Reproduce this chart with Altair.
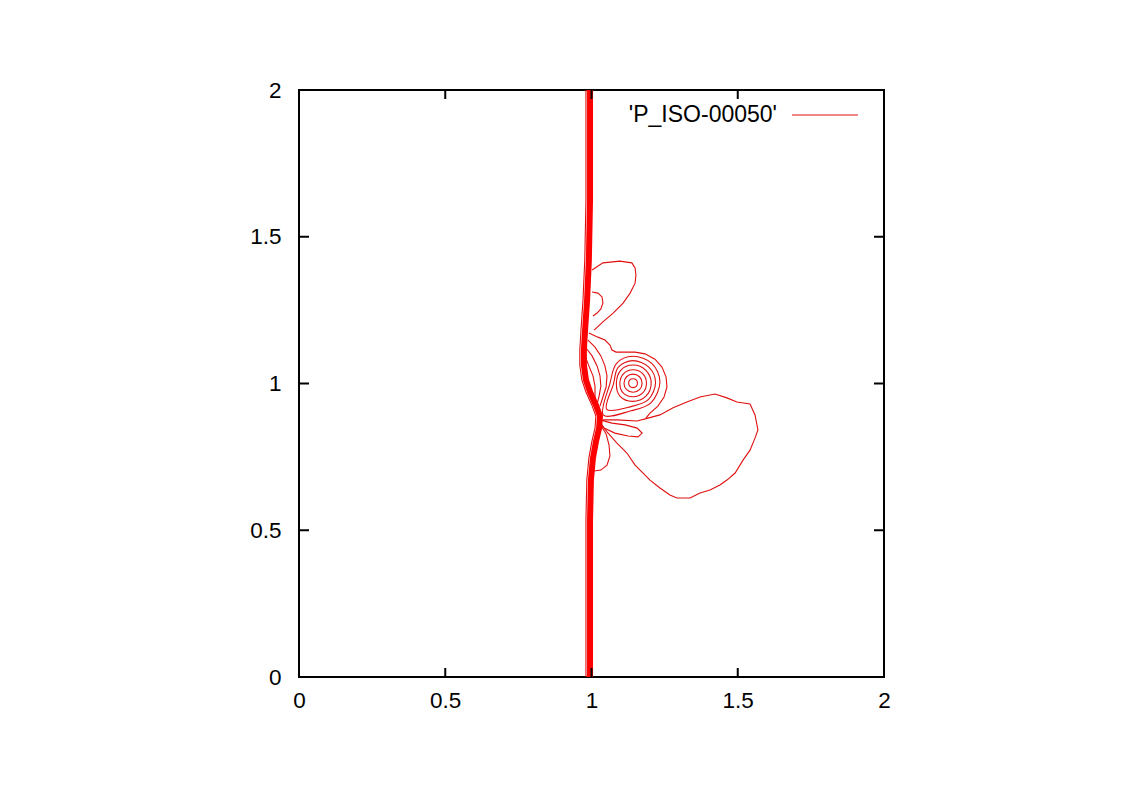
import altair as alt
import pandas as pd

# ---------------- contour paths (data units) ----------------
shock_x = [0.995, 0.995, 0.991, 0.985, 0.978, 0.974, 0.974, 0.981, 0.995, 1.015, 1.029, 1.026, 1.015, 1.005, 0.998, 0.995, 0.995]
shock_y = [2.0, 1.625, 1.421, 1.285, 1.182, 1.114, 1.063, 1.012, 0.971, 0.927, 0.889, 0.848, 0.801, 0.746, 0.671, 0.535, 0.0]
edge_x = [0.981, 0.981, 0.977, 0.971, 0.964, 0.960, 0.960, 0.967, 0.981, 1.001, 1.015, 1.012, 1.001, 0.991, 0.984, 0.981, 0.981]
edge_y = shock_y

a_x = [0.991, 1.022, 1.046, 1.063, 1.070, 1.084, 1.115, 1.149, 1.183, 1.217, 1.241, 1.255, 1.258, 1.248, 1.227, 1.200, 1.186]
a_y = [1.172, 1.158, 1.148, 1.131, 1.114, 1.107, 1.107, 1.107, 1.101, 1.083, 1.056, 1.022, 0.988, 0.954, 0.923, 0.899, 0.882]
b_x = [0.988, 1.012, 1.032, 1.046, 1.053, 1.050, 1.039, 1.029]
b_y = [1.148, 1.124, 1.094, 1.060, 1.026, 0.988, 0.954, 0.923]
c_x = [0.981, 1.002, 1.019, 1.029, 1.032, 1.026, 1.019]
c_y = [1.121, 1.094, 1.060, 1.026, 0.991, 0.957, 0.930]
d_x = [0.978, 0.991, 1.005, 1.012, 1.012, 1.015]
d_y = [1.094, 1.060, 1.026, 0.991, 0.957, 0.930]

top_x = [1.002, 1.039, 1.097, 1.138, 1.149, 1.152, 1.149, 1.132, 1.108, 1.074, 1.039, 1.009]
top_y = [1.387, 1.411, 1.417, 1.411, 1.394, 1.370, 1.342, 1.308, 1.274, 1.240, 1.210, 1.182]
small_x = [1.002, 1.022, 1.036, 1.039, 1.032, 1.019, 1.005]
small_y = [1.312, 1.308, 1.295, 1.274, 1.254, 1.240, 1.230]

lobe_x = [1.039, 1.087, 1.156, 1.193, 1.234, 1.279, 1.326, 1.371, 1.422, 1.463, 1.497, 1.542, 1.559, 1.569,
          1.559, 1.542, 1.518, 1.491, 1.463, 1.439, 1.405, 1.371, 1.337, 1.292, 1.268, 1.234, 1.200, 1.173,
          1.149, 1.121, 1.087, 1.053, 1.032]
lobe_y = [0.876, 0.876, 0.872, 0.882, 0.893, 0.917, 0.937, 0.954, 0.964, 0.951, 0.937, 0.930, 0.893, 0.842,
          0.814, 0.773, 0.739, 0.695, 0.671, 0.654, 0.637, 0.627, 0.610, 0.610, 0.620, 0.644, 0.671, 0.698,
          0.722, 0.763, 0.797, 0.835, 0.862]

l1_x = [1.029, 1.070, 1.115, 1.156, 1.173, 1.159, 1.125, 1.080, 1.043, 1.035]
l1_y = [0.876, 0.865, 0.859, 0.848, 0.831, 0.818, 0.821, 0.831, 0.848, 0.860]
l2_x = [1.029, 1.050, 1.060, 1.063, 1.053, 1.032, 1.009]
l2_y = [0.862, 0.828, 0.790, 0.753, 0.722, 0.705, 0.702]

# closed vortex rings (E, NE, N, NW, W, SW, S, SE)
r1_x = [1.157, 1.153, 1.142, 1.131, 1.127, 1.131, 1.142, 1.153]
r1_y = [1.001, 1.012, 1.016, 1.012, 1.001, 0.990, 0.986, 0.990]
r2_x = [1.173, 1.164, 1.142, 1.120, 1.111, 1.120, 1.142, 1.164]
r2_y = [1.001, 1.023, 1.032, 1.023, 1.001, 0.979, 0.970, 0.979]
r3_x = [1.188, 1.175, 1.142, 1.110, 1.097, 1.109, 1.142, 1.175]
r3_y = [1.001, 1.034, 1.047, 1.034, 1.001, 0.967, 0.955, 0.968]
r4_x = [1.204, 1.186, 1.142, 1.100, 1.085, 1.098, 1.141, 1.186]
r4_y = [1.001, 1.045, 1.063, 1.045, 1.000, 0.956, 0.939, 0.957]
r5_x = [1.219, 1.196, 1.142, 1.091, 1.075, 1.052, 1.138, 1.195]
r5_y = [1.003, 1.056, 1.078, 1.055, 0.998, 0.912, 0.922, 0.946]
r6_x = [1.234, 1.207, 1.142, 1.085, 1.063, 1.040, 1.135, 1.204]
r6_y = [1.005, 1.068, 1.093, 1.068, 1.000, 0.893, 0.907, 0.935]

tick_values = [0, 0.5, 1, 1.5, 2]
legend_label = "'P_ISO-00050'"
RED = "#ff0000"
THIN = "#e01010"


def table(paths):
    rows = []
    for name, xs, ys in paths:
        for i, (x, y) in enumerate(zip(xs, ys)):
            rows.append({"c": name, "x": x, "y": y, "o": i})
    return pd.DataFrame(rows)


open_df = table([
    ("edge", edge_x, edge_y), ("a", a_x, a_y), ("b", b_x, b_y), ("c", c_x, c_y), ("d", d_x, d_y),
    ("top", top_x, top_y), ("small", small_x, small_y), ("lobe", lobe_x, lobe_y),
    ("l1", l1_x, l1_y), ("l2", l2_x, l2_y),
])
ring_df = table([("r1", r1_x, r1_y), ("r2", r2_x, r2_y), ("r3", r3_x, r3_y),
                 ("r4", r4_x, r4_y), ("r5", r5_x, r5_y), ("r6", r6_x, r6_y)])
shock_df = table([("shock", shock_x, shock_y)])
ticks_df = pd.DataFrame({"x": tick_values, "y": tick_values})

W, H = 585, 587
FONT = "Liberation Sans"

xscale = alt.Scale(domain=[0, 2], nice=False, zero=False)
yscale = alt.Scale(domain=[0, 2], nice=False, zero=False)
xaxis = alt.Axis(values=tick_values, format="~g", title=None, ticks=False, domain=False, grid=False,
                 labelFont=FONT, labelFontSize=22.5, labelColor="black", labelPadding=12,
                 labelFlush=False)
yaxis = alt.Axis(values=tick_values, format="~g", title=None, ticks=False, domain=False, grid=False,
                 labelFont=FONT, labelFontSize=22.5, labelColor="black", labelPadding=18,
                 labelFlush=False)

X = alt.X("x:Q", scale=xscale, axis=xaxis)
Y = alt.Y("y:Q", scale=yscale, axis=yaxis)

open_lines = alt.Chart(open_df).mark_line(color=THIN, strokeWidth=1.1, clip=True).encode(
    x=X, y=Y, detail="c:N", order="o:Q")
rings = alt.Chart(ring_df).mark_line(color=THIN, strokeWidth=1.1, interpolate="cardinal-closed").encode(
    x=X, y=Y, detail="c:N", order="o:Q")
shock = alt.Chart(shock_df).mark_line(color=RED, strokeWidth=6, clip=True).encode(
    x=X, y=Y, detail="c:N", order="o:Q")

tick_bottom = alt.Chart(ticks_df).mark_rule(color="black", strokeWidth=2).encode(
    x=X, y=alt.value(H), y2=alt.value(H - 9))
tick_top = alt.Chart(ticks_df).mark_rule(color="black", strokeWidth=2).encode(
    x=X, y=alt.value(0), y2=alt.value(9))
tick_left = alt.Chart(ticks_df).mark_rule(color="black", strokeWidth=2).encode(
    y=Y, x=alt.value(0), x2=alt.value(10))
tick_right = alt.Chart(ticks_df).mark_rule(color="black", strokeWidth=2).encode(
    y=Y, x=alt.value(W), x2=alt.value(W - 10))

legend_df = pd.DataFrame({"label": [legend_label]})
legend_text = alt.Chart(legend_df).mark_text(
    font=FONT, fontSize=23, align="right", baseline="middle", color="black").encode(
    text="label:N", x=alt.value(478), y=alt.value(25))
legend_line = alt.Chart(legend_df).mark_rule(color=THIN, strokeWidth=1.1).encode(
    x=alt.value(493), x2=alt.value(559), y=alt.value(25))

chart = alt.layer(
    open_lines, rings, shock,
    tick_bottom, tick_top, tick_left, tick_right,
    legend_text, legend_line,
).properties(
    width=W, height=H,
    autosize=alt.AutoSizeParams(type="none"),
    padding={"left": 291, "top": 82, "right": 240, "bottom": 104},
    background="white",
).configure_view(stroke="black", strokeWidth=2)

chart.save("out.html", embed_options={"renderer": "svg", "actions": False})
